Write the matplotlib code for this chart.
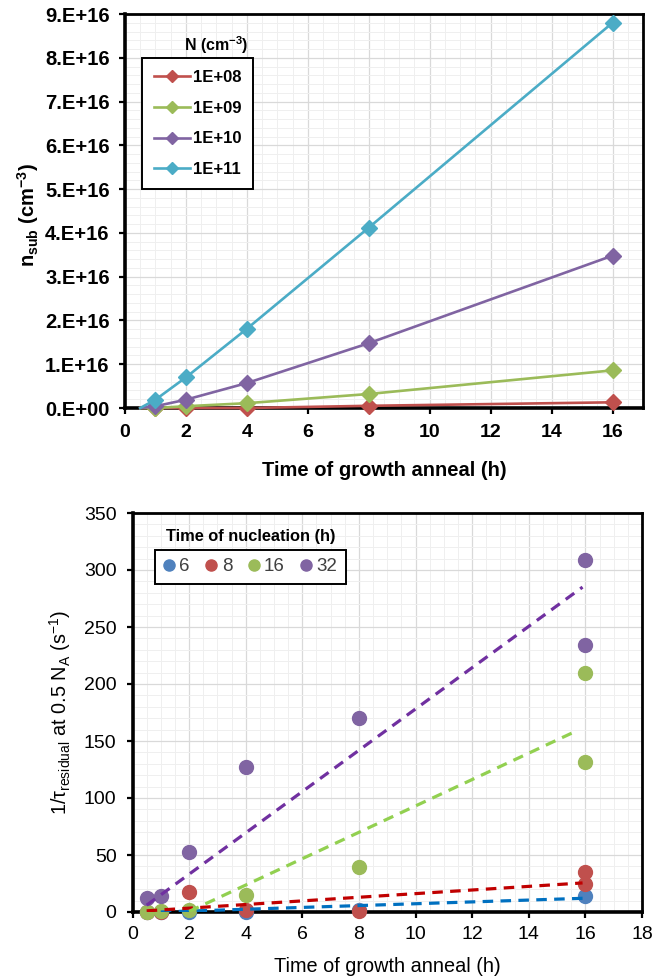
import numpy as np
import matplotlib
matplotlib.use("Agg")
import matplotlib.pyplot as plt
from matplotlib.ticker import MultipleLocator, FuncFormatter

plt.rcParams['font.family'] = ['Liberation Sans', 'DejaVu Sans']
plt.rcParams['mathtext.default'] = 'regular'

# ---- top panel data: n_sub vs growth anneal time ----
t_top = [0.5, 1, 2, 4, 8, 16]
n_labels = ["1E+08", "1E+09", "1E+10", "1E+11"]
n_1e08 = [0.0, 0.0, 0.0, 0.0, 0.05e16, 0.13e16]
n_1e09 = [0.0, 0.0, 0.04e16, 0.11e16, 0.32e16, 0.86e16]
n_1e10 = [0.0, 0.04e16, 0.19e16, 0.57e16, 1.48e16, 3.48e16]
n_1e11 = [0.0, 0.19e16, 0.70e16, 1.81e16, 4.12e16, 8.80e16]
top_colors = ["#C0504D", "#9BBB59", "#8064A2", "#4BACC6"]

# ---- bottom panel data: 1/tau_residual vs growth anneal time ----
nuc_labels = ["6", "8", "16", "32"]
t_6 = [0.5, 1, 2, 4, 8, 16]
r_6 = [0.0, 0.0, 0.0, 0.0, 2.0, 14.4]
t_8 = [0.5, 1, 2, 4, 8, 16, 16]
r_8 = [0.0, 0.0, 17.4, 1.5, 0.6, 35.0, 25.0]
t_16 = [0.5, 1, 2, 4, 8, 16, 16]
r_16 = [0.0, 0.5, 1.5, 15.3, 39.7, 131.5, 209.7]
t_32 = [0.5, 1, 2, 4, 8, 16, 16]
r_32 = [12.5, 14.0, 53.0, 127.6, 170.0, 309.0, 234.0]
# trend line end points
trend_t = [[1.0, 15.9], [0.5, 15.9], [2.0, 15.7], [0.5, 15.9]]
trend_r = [[0.0, 12.0], [1.0, 25.5], [0.5, 159.0], [6.0, 285.0]]
pt_colors = ["#4F81BD", "#C0504D", "#9BBB59", "#8064A2"]
trend_colors = ["#0070C0", "#C00000", "#92D050", "#7030A0"]

fig = plt.figure(figsize=(6.59, 9.8), dpi=100)
ax1 = fig.add_axes([125 / 659, 1 - 408 / 980, 518 / 659, 394 / 980])
ax2 = fig.add_axes([132.5 / 659, 1 - 912 / 980, 509.5 / 659, 399 / 980])


def style_axes(ax):
    ax.grid(True, which='major', color='#D9D9D9', lw=0.9, zorder=0)
    ax.grid(True, which='minor', color='#EFEFEF', lw=0.7, zorder=0)
    ax.set_axisbelow(True)
    for s in ax.spines.values():
        s.set_linewidth(2.0)
    for s in ['left', 'bottom']:
        ax.spines[s].set_linewidth(2.6)
    ax.tick_params(which='major', direction='out', length=4.5, width=1.6,
                   labelsize=14, pad=4, top=False, right=False)
    ax.tick_params(which='minor', length=0)


# ---- top panel ----
series_top = [n_1e08, n_1e09, n_1e10, n_1e11]
for vals, lab, col in zip(series_top, n_labels, top_colors):
    ax1.plot(t_top, vals, color=col, lw=1.9, marker='D', ms=8.5,
             markevery=list(range(1, len(t_top))), label=lab,
             clip_on=False, zorder=3)
ax1.set_xlim(0, 17)
ax1.set_ylim(0, 9e16)
ax1.xaxis.set_major_locator(MultipleLocator(2))
ax1.xaxis.set_minor_locator(MultipleLocator(0.5))
ax1.yaxis.set_major_locator(MultipleLocator(1e16))
ax1.yaxis.set_minor_locator(MultipleLocator(0.2e16))
ax1.yaxis.set_major_formatter(FuncFormatter(
    lambda v, p: '0.E+00' if v == 0 else f'{v / 1e16:.0f}.E+16'))
style_axes(ax1)
ax1.tick_params(axis='x', which='major', pad=7)
ax1.tick_params(axis='y', which='major', pad=6.5, labelsize=14.5)
for lbl in ax1.get_xticklabels() + ax1.get_yticklabels():
    lbl.set_fontweight('bold')
ax1.set_xlabel("Time of growth anneal (h)", fontsize=14.5, fontweight='bold')
ax1.xaxis.set_label_coords(0.5, -0.135)
ax1.set_ylabel("n$_{sub}$ (cm$^{-3}$)", fontsize=14.5, fontweight='bold')
ax1.yaxis.set_label_coords(-0.162, 0.49)

leg1 = ax1.legend(loc='upper left', bbox_to_anchor=(0.033, 0.888),
                  borderaxespad=0, frameon=True, fancybox=False,
                  edgecolor='black', framealpha=1, markerscale=0.7,
                  prop={'size': 12, 'weight': 'bold'}, labelspacing=0.95,
                  handlelength=2.2, handletextpad=0.15, borderpad=0.7)
leg1.get_frame().set_linewidth(1.4)
ax1.text(0.176, 0.921, "N (cm$^{-3}$)", transform=ax1.transAxes,
         ha='center', va='center', fontsize=11.5, fontweight='bold')

# ---- bottom panel ----
series_bot = [(t_6, r_6), (t_8, r_8), (t_16, r_16), (t_32, r_32)]
for (tx, ry), lab, col in zip(series_bot, nuc_labels, pt_colors):
    ax2.plot(tx, ry, ls='none', marker='o', ms=10, color=col, label=lab,
             clip_on=False, zorder=3)
for tx, ry, col in zip(trend_t, trend_r, trend_colors):
    ax2.plot(tx, ry, color=col, lw=2.3, dashes=(3.3, 2.3), zorder=4)
ax2.set_xlim(0, 18)
ax2.set_ylim(0, 350)
ax2.xaxis.set_major_locator(MultipleLocator(2))
ax2.xaxis.set_minor_locator(MultipleLocator(0.5))
ax2.yaxis.set_major_locator(MultipleLocator(50))
ax2.yaxis.set_minor_locator(MultipleLocator(10))
style_axes(ax2)
ax2.tick_params(axis='x', which='major', pad=5.5)
ax2.tick_params(axis='y', which='major', pad=7)
ax2.set_xlabel("Time of growth anneal (h)", fontsize=14.3)
ax2.xaxis.set_label_coords(0.5, -0.112)
ax2.set_ylabel("1/τ$_{residual}$ at 0.5 N$_{A}$ (s$^{-1}$)", fontsize=14.3)
ax2.yaxis.set_label_coords(-0.116, 0.5)

leg2 = ax2.legend(loc='upper left', bbox_to_anchor=(0.044, 0.9075), ncol=4,
                  borderaxespad=0, frameon=True, fancybox=False,
                  edgecolor='black', framealpha=1, markerscale=0.8,
                  prop={'size': 13.5}, handlelength=0.6,
                  handletextpad=0.25, columnspacing=0.85, borderpad=0.45)
leg2.get_frame().set_linewidth(1.4)
for txt in leg2.get_texts():
    txt.set_color('#404040')
ax2.text(0.233, 0.94, "Time of nucleation (h)", transform=ax2.transAxes,
         ha='center', va='center', fontsize=11.8, fontweight='bold')

fig.savefig("out.png", dpi=100)
